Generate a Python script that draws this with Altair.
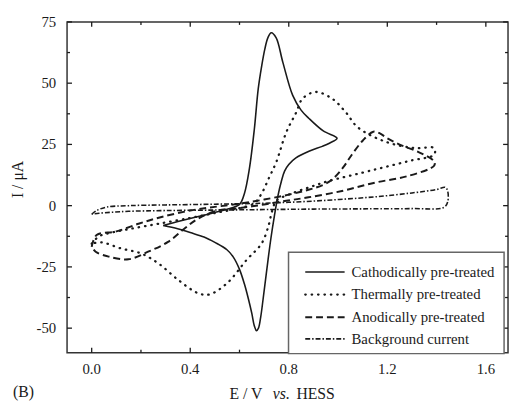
import altair as alt
import pandas as pd

# ---------------- data ----------------
cath_E = [0.29, 0.35, 0.45, 0.55, 0.60, 0.62, 0.64, 0.66, 0.676, 0.69, 0.703, 0.715, 0.729, 0.749,
          0.776, 0.816, 0.85, 0.882, 0.94, 0.996, 0.965, 0.936, 0.882, 0.829, 0.80, 0.783, 0.77,
          0.756, 0.742, 0.728, 0.716, 0.706, 0.696, 0.686, 0.677, 0.669, 0.66, 0.65, 0.636, 0.62, 0.60,
          0.575, 0.549, 0.50, 0.456, 0.40, 0.349, 0.29]
cath_I = [-8.1, -6.5, -4.0, -1.5, 0.5, 5.0, 15.0, 31.0, 47.7, 57.0, 64.0, 68.5, 70.6, 68.5,
          58.5, 45.0, 39.0, 35.6, 30.5, 27.5, 25.5, 24.2, 22.2, 19.5, 16.8, 14.1, 10.0,
          4.0, -4.0, -13.0, -22.0, -30.0, -38.0, -45.5, -50.0, -51.0, -49.0, -44.0, -38.0, -32.0, -26.0,
          -21.0, -18.0, -15.0, -12.8, -11.0, -9.4, -8.1]

therm_E = [0.0, 0.03, 0.08, 0.16, 0.27, 0.40, 0.50, 0.60, 0.66, 0.69, 0.72, 0.75, 0.79, 0.83,
           0.856, 0.909, 0.976, 1.03, 1.08, 1.19, 1.31, 1.39, 1.39, 1.30, 1.20, 1.10, 0.96,
           0.88, 0.80, 0.75, 0.73, 0.72, 0.69, 0.63, 0.55, 0.476, 0.429, 0.35, 0.27, 0.20,
           0.12, 0.04, 0.0]
therm_I = [-15.5, -12.5, -11.0, -9.4, -7.4, -5.0, -3.0, -1.0, 1.0, 5.0, 11.4, 18.0, 30.0, 38.0,
           43.7, 46.4, 43.7, 38.3, 32.0, 26.2, 23.5, 23.5, 20.8, 18.5, 16.0, 13.5, 10.0,
           7.4, 4.5, 2.0, -3.0, -7.4, -15.4, -22.0, -31.6, -36.3, -35.6, -30.2, -23.5, -19.5,
           -17.5, -15.0, -15.5]

anod_E = [0.0, 0.02, 0.10, 0.19, 0.28, 0.40, 0.50, 0.60, 0.70, 0.80, 0.88, 0.94, 0.98, 1.02,
          1.056, 1.10, 1.143, 1.17, 1.20, 1.26, 1.32, 1.39, 1.39, 1.28, 1.15, 1.016, 0.88,
          0.79, 0.70, 0.60, 0.51, 0.43, 0.376, 0.31, 0.229, 0.149, 0.069, 0.016, 0.0]
anod_I = [-16.8, -12.0, -10.5, -7.4, -4.7, -2.0, -0.5, 0.8, 2.5, 4.5, 6.5, 8.5, 11.0, 15.5,
          20.8, 26.5, 30.2, 29.5, 27.5, 24.5, 22.2, 18.1, 16.3, 12.0, 9.4, 6.0, 3.4,
          2.0, 0.5, -1.0, -2.0, -5.4, -9.4, -14.8, -18.8, -21.9, -20.8, -18.8, -16.8]

bg_E = [0.0, 0.02, 0.06, 0.15, 0.30, 0.50, 0.70, 0.85, 1.00, 1.15, 1.30, 1.40, 1.435, 1.445,
        1.445, 1.43, 1.30, 1.10, 0.90, 0.70, 0.50, 0.30, 0.15, 0.08, 0.03, 0.0]
bg_I = [-3.5, -2.0, -0.6, 0.0, 0.3, 0.6, 1.0, 1.6, 2.5, 3.6, 5.2, 6.6, 7.5, 6.0,
        1.5, -0.7, -1.2, -1.3, -1.4, -1.6, -1.8, -2.0, -2.3, -2.7, -3.1, -3.5]

series_names = ["Cathodically pre-treated", "Thermally pre-treated",
                "Anodically pre-treated", "Background current"]

x_major = [0.0, 0.4, 0.8, 1.2, 1.6]
x_labels = ["0.0", "0.4", "0.8", "1.2", "1.6"]
x_minor = [0.2, 0.6, 1.0, 1.4]
y_major = [-50, -25, 0, 25, 50, 75]
y_labels = ["-50", "-25", "0", "25", "50", "75"]
y_minor = [-37.5, -12.5, 12.5, 37.5, 62.5]

# ---------------- layout / style ----------------
W, H = 448, 336
FONT = "Liberation Serif, Times New Roman, DejaVu Serif, serif"
INK = "#1a1a1a"

xs = alt.Scale(domain=[-0.1, 1.69], nice=False, zero=False)
ys = alt.Scale(domain=[-60, 75], nice=False, zero=False)

styles = [
    dict(strokeWidth=1.6),
    dict(strokeWidth=2.3, strokeDash=[0.5, 6], strokeCap="round"),
    dict(strokeWidth=2.0, strokeDash=[7, 4]),
    dict(strokeWidth=1.6, strokeDash=[5, 2, 1.5, 2]),
]

def frame(E, I):
    return pd.DataFrame({"E": E, "I": I, "k": list(range(len(E)))})

curves = []
for (E, I), st in zip([(cath_E, cath_I), (therm_E, therm_I), (anod_E, anod_I), (bg_E, bg_I)], styles):
    curves.append(
        alt.Chart(frame(E, I)).mark_line(color=INK, clip=True, interpolate="catmull-rom", **st).encode(
            x=alt.X("E:Q", scale=xs, axis=None),
            y=alt.Y("I:Q", scale=ys, axis=None),
            order="k:Q",
        )
    )

one = pd.DataFrame({"a": [0]})

# inward ticks
def xticks(vals, y0, y1):
    return alt.Chart(pd.DataFrame({"v": vals})).mark_rule(color=INK, strokeWidth=1.3).encode(
        x=alt.X("v:Q", scale=xs, axis=None), y=alt.value(y0), y2=alt.value(y1))

def yticks(vals, x0, x1):
    return alt.Chart(pd.DataFrame({"v": vals})).mark_rule(color=INK, strokeWidth=1.3).encode(
        y=alt.Y("v:Q", scale=ys, axis=None), x=alt.value(x0), x2=alt.value(x1))

ticks = [
    xticks(x_major, H, H - 5), xticks(x_minor, H, H - 3),
    xticks(x_major, 0, 5), xticks(x_minor, 0, 3),
    yticks(y_major, 0, 5), yticks(y_minor, 0, 3),
    yticks(y_major, W, W - 5), yticks(y_minor, W, W - 3),
]

# tick labels
xlab = alt.Chart(pd.DataFrame({"v": x_major, "t": x_labels})).mark_text(
    font=FONT, fontSize=15, color=INK, align="center", baseline="middle").encode(
    x=alt.X("v:Q", scale=xs, axis=None), y=alt.value(H + 17), text="t:N")
ylab = alt.Chart(pd.DataFrame({"v": y_major, "t": y_labels})).mark_text(
    font=FONT, fontSize=15, color=INK, align="right", baseline="middle").encode(
    y=alt.Y("v:Q", scale=ys, axis=None), x=alt.value(-11), text="t:N")

# legend box
legend = [alt.Chart(one).mark_rect(fill="white", stroke="#666", strokeWidth=1.5).encode(
    x=alt.value(225), x2=alt.value(444), y=alt.value(234), y2=alt.value(337))]
leg_y = [254, 277, 300, 322]
for name, st, yy in zip(series_names, styles, leg_y):
    legend.append(alt.Chart(one).mark_rule(color=INK, **st).encode(
        x=alt.value(242), x2=alt.value(282), y=alt.value(yy)))
    legend.append(alt.Chart(one).mark_text(text=name, font=FONT, fontSize=15, color=INK,
                                           align="left", baseline="middle").encode(
        x=alt.value(289), y=alt.value(yy)))

# titles
def label(txt, x, y, **kw):
    return alt.Chart(one).mark_text(text=txt, font=FONT, fontSize=16, color=INK, **kw).encode(
        x=alt.value(x), y=alt.value(y))

titles = [
    label("I / μA", -50, 160, angle=270, align="center", baseline="middle"),
    label("E / V", 165, 378, align="left", baseline="middle"),
    label("vs.", 209, 378, align="left", baseline="middle", fontStyle="italic"),
    label("HESS", 233, 378, align="left", baseline="middle"),
    label("(B)", -55, 376, align="left", baseline="middle"),
]

chart = alt.layer(*ticks, *curves, *legend, xlab, ylab, *titles).properties(
    width=W, height=H,
    background="white",
    autosize=alt.AutoSizeParams(type="none"),
    padding={"left": 60, "top": 11, "right": 1, "bottom": 48},
).configure_view(stroke="#333", strokeWidth=1.5)

chart.save("out.html", embed_options={"renderer": "svg", "actions": False})
